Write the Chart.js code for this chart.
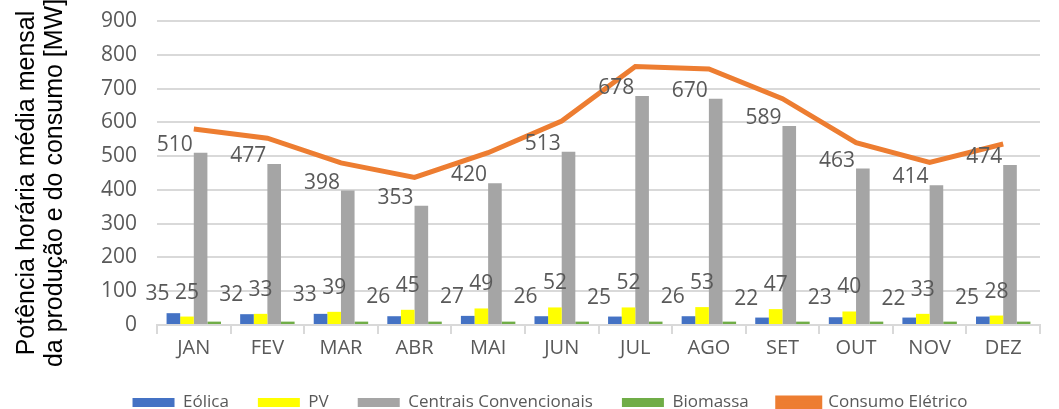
<!DOCTYPE html>
<html>
<head>
<meta charset="utf-8">
<script src="https://cdn.jsdelivr.net/npm/chart.js@4"></script>
<style>
  html, body { margin: 0; padding: 0; background: #fff; }
  #wrap { width: 1059px; height: 409px; }
</style>
</head>
<body>
<div id="wrap"><canvas id="chart"></canvas></div>
<script>
const months = ['JAN', 'FEV', 'MAR', 'ABR', 'MAI', 'JUN', 'JUL', 'AGO', 'SET', 'OUT', 'NOV', 'DEZ'];
const eolica = [35, 32, 33, 26, 27, 26, 25, 26, 22, 23, 22, 25];
const pv = [25, 33, 39, 45, 49, 52, 52, 53, 47, 40, 33, 28];
const convencionais = [510, 477, 398, 353, 420, 513, 678, 670, 589, 463, 414, 474];
const biomassa = [10, 10, 10, 10, 10, 10, 10, 10, 10, 10, 10, 10];
const consumo = [580, 553, 480, 437, 510, 604, 765, 758, 670, 540, 481, 536];
const yTitle = ['Potência horária média mensal', 'da produção e do consumo [MW]'];

const grey = '#595959';
const sans = '"Open Sans", "Liberation Sans", sans-serif';

// value labels next to the bars
const barLabels = {
    id: 'barLabels',
    afterDatasetsDraw(chart) {
        const ctx = chart.ctx;
        ctx.save();
        ctx.font = '21px ' + sans;
        ctx.fillStyle = grey;
        ctx.textBaseline = 'middle';
        [0, 1, 2].forEach(di => {
            const meta = chart.getDatasetMeta(di);
            const values = chart.data.datasets[di].data;
            meta.data.forEach((bar, i) => {
                const txt = String(values[i]);
                const left = bar.x - bar.width / 2;
                if (di === 0) {
                    ctx.textAlign = 'right';
                    ctx.fillText(txt, left + 3, bar.y - 19);
                } else if (di === 1) {
                    ctx.textAlign = 'center';
                    ctx.fillText(txt, bar.x, bar.y - 24);
                } else {
                    ctx.textAlign = 'right';
                    ctx.fillText(txt, left - 1, bar.y - 8);
                }
            });
        });
        ctx.restore();
    }
};

// rotated axis title on the far left
const axisTitle = {
    id: 'axisTitle',
    afterDraw(chart) {
        const ctx = chart.ctx;
        const mid = (chart.chartArea.top + chart.chartArea.bottom) / 2 + 10;
        ctx.save();
        ctx.font = '25px "Liberation Sans", Arial, sans-serif';
        ctx.fillStyle = '#000';
        ctx.textAlign = 'center';
        ctx.textBaseline = 'middle';
        ctx.translate(27, mid);
        ctx.rotate(-Math.PI / 2);
        ctx.fillText(yTitle[0], 0, 0);
        ctx.fillText(yTitle[1], 0, 28);
        ctx.restore();
    }
};

new Chart(document.getElementById('chart'), {
    data: {
        labels: months,
        datasets: [
            { type: 'bar', label: 'Eólica', data: eolica, backgroundColor: '#4472C4', order: 2 },
            { type: 'bar', label: 'PV', data: pv, backgroundColor: '#FFFF00', order: 2 },
            { type: 'bar', label: 'Centrais Convencionais', data: convencionais, backgroundColor: '#A5A5A5', order: 2 },
            { type: 'bar', label: 'Biomassa', data: biomassa, backgroundColor: '#70AD47', order: 2 },
            {
                type: 'line', label: 'Consumo Elétrico', data: consumo,
                borderColor: '#ED7D31', backgroundColor: '#ED7D31',
                borderWidth: 5, pointRadius: 0, tension: 0, order: 1,
            },
        ],
    },
    options: {
        responsive: true,
        maintainAspectRatio: false,
        animation: false,
        layout: { padding: { top: 21, right: 19, left: 60, bottom: -12 } },
        datasets: { bar: { categoryPercentage: 0.74, barPercentage: 1 } },
        plugins: {
            tooltip: { enabled: false },
            legend: {
                position: 'bottom',
                labels: {
                    boxWidth: 42, boxHeight: 9, padding: 29,
                    color: grey,
                    font: { family: sans, size: 17 },
                    sort: (a, b) => a.datasetIndex - b.datasetIndex,
                },
            },
        },
        scales: {
            x: {
                afterFit: (scale) => { scale.height += 3; },
                grid: { display: true, drawOnChartArea: false, drawTicks: true, tickLength: 9, color: '#d9d9d9', lineWidth: 2, offset: true },
                border: { color: '#d9d9d9', width: 2 },
                ticks: { color: grey, font: { family: sans, size: 20 }, padding: 2 },
            },
            y: {
                min: 0, max: 900,
                afterFit: (scale) => {
                    scale.width = 97;
                    scale.paddingTop = 0;
                    scale.paddingBottom = 0;
                },
                ticks: { stepSize: 100, color: grey, font: { family: sans, size: 21 }, padding: 20 },
                grid: { color: '#d9d9d9', lineWidth: 2, drawTicks: false },
                border: { display: false },
            },
        },
    },
    plugins: [barLabels, axisTitle],
});
</script>
</body>
</html>
